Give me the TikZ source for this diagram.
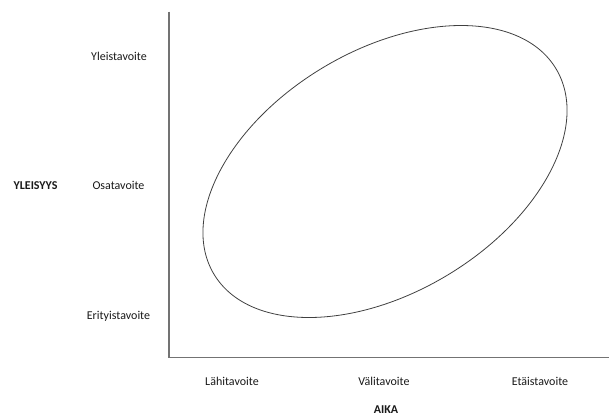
\documentclass[tikz,border=0pt]{standalone}
\usepackage{fontspec}
\setmainfont{Carlito}
\begin{document}
\begin{tikzpicture}[x=1bp,y=-1bp,
  axis/.style={draw=black!55,line width=1.3bp},
  scope curve/.style={draw=black!75,line width=0.8bp},
  lbl/.style={inner sep=0pt,font=\fontsize{12bp}{14bp}\selectfont,text=black!90},
  title/.style={lbl,font=\fontsize{12bp}{14bp}\selectfont\bfseries}]
  \useasboundingbox (0,0) rectangle (609,416);
  % axes
  \coordinate (top) at (169,11.5);
  \coordinate (origin) at (169,357.5);
  \coordinate (right) at (609,357.5);
  \draw[axis] (top) -- (origin) -- (right);
  % vertical axis labels
  \node[title] (yleisyys) at (35.5,186) {YLEISYYS};
  \node[lbl] (yleis) at (119,56) {Yleistavoite};
  \node[lbl] (osa) at (118.5,185) {Osatavoite};
  \node[lbl] (erityis) at (118.5,316) {Erityistavoite};
  % horizontal axis labels
  \node[lbl] (lahi) at (232,381) {Lähitavoite};
  \node[lbl] (vali) at (384,381) {Välitavoite};
  \node[lbl] (etai) at (540,381) {Etäistavoite};
  \node[title] (aika) at (386,410) {AIKA};
  % tilted ellipse
  \coordinate (c) at (385,171.5);
  \draw[scope curve,rotate around={31:(c)}] (c) ellipse [x radius=199.5bp, y radius=121bp];
\end{tikzpicture}
\end{document}
